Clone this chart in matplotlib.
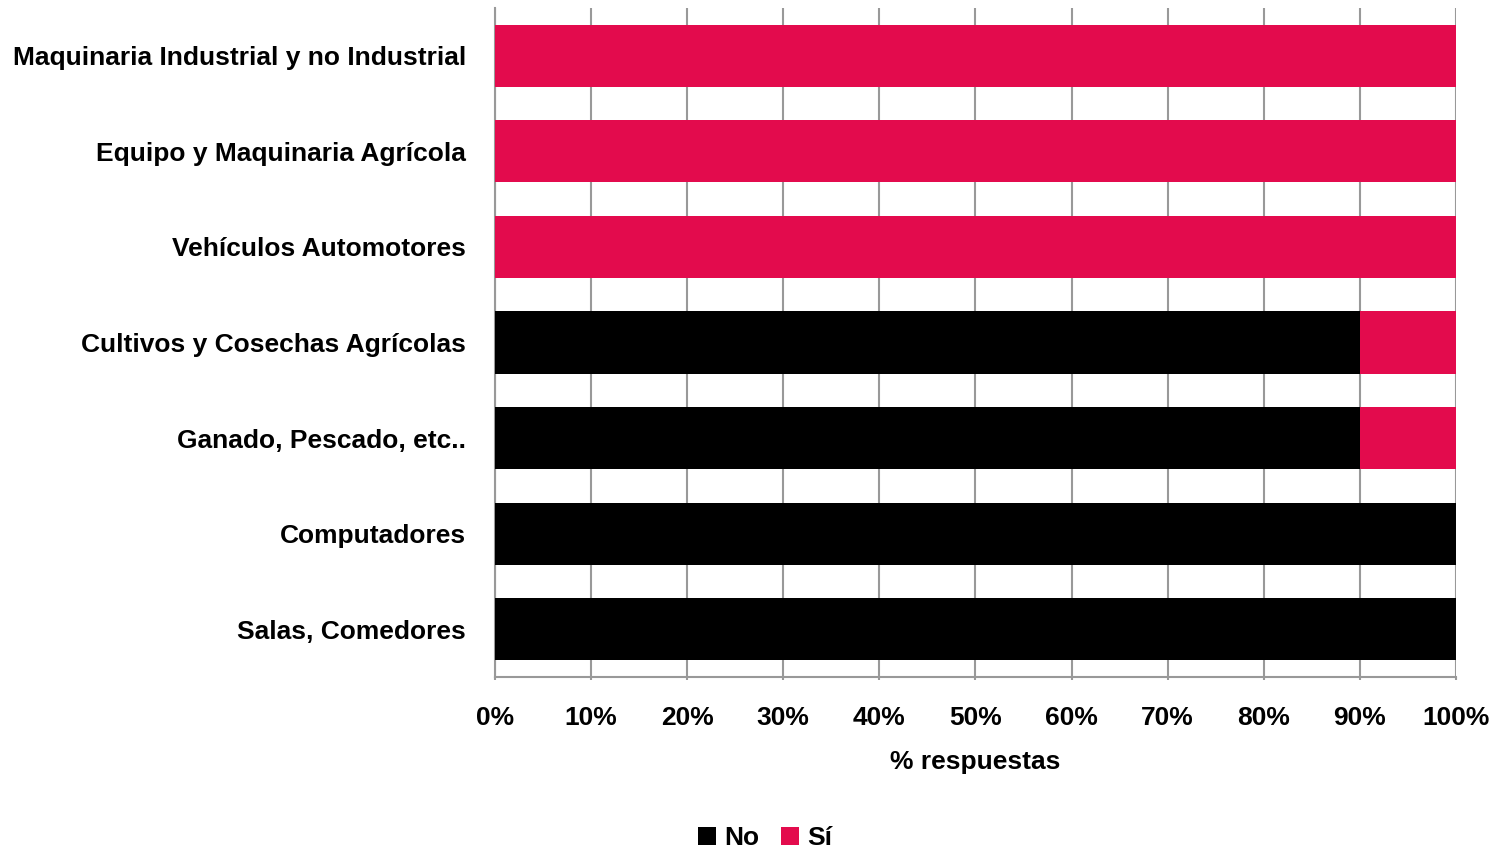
import matplotlib
matplotlib.use("Agg")
import matplotlib.pyplot as plt
from matplotlib.ticker import FuncFormatter

plt.rcParams['font.family'] = ['Liberation Sans', 'DejaVu Sans']
plt.rcParams['font.weight'] = 'bold'

categories = ["Maquinaria Industrial y no Industrial", "Equipo y Maquinaria Agrícola",
              "Vehículos Automotores", "Cultivos y Cosechas Agrícolas",
              "Ganado, Pescado, etc..", "Computadores", "Salas, Comedores"]
no_vals = [0, 0, 0, 90, 90, 100, 100]
si_vals = [100, 100, 100, 10, 10, 0, 0]
xticks = list(range(0, 101, 10))

FS = 19

fig = plt.figure(figsize=(14.99, 8.5), dpi=100)
ax = fig.add_axes([0.3302, 0.2035, 0.9713 - 0.3302, 0.9906 - 0.2035])

y = list(range(len(categories)))
ax.barh(y, no_vals, height=0.65, color='#000000', label='No', zorder=3)
ax.barh(y, si_vals, left=no_vals, height=0.65, color='#E30B4D', label='Sí', zorder=3)

ax.set_ylim(len(categories) - 0.5, -0.5)
ax.set_xlim(0, 100)
ax.set_yticks(y)
ax.set_yticklabels(categories, fontsize=FS, fontweight='bold')
ax.set_xticks(xticks)
ax.xaxis.set_major_formatter(FuncFormatter(lambda v, p: f"{int(v)}%"))
for lab in ax.get_xticklabels():
    lab.set_fontsize(FS)
    lab.set_fontweight('bold')
ax.tick_params(axis='y', length=0, pad=21)
ax.tick_params(axis='x', length=2, color='#999999', pad=19, width=1.5)
ax.xaxis.grid(True, color='#999999', linewidth=1.5, zorder=0)
ax.set_axisbelow(True)
for s in ['top', 'right']:
    ax.spines[s].set_visible(False)
for s in ['left', 'bottom']:
    ax.spines[s].set_color('#999999')
    ax.spines[s].set_linewidth(1.5)
ax.set_xlabel('% respuestas', fontsize=FS, fontweight='bold', labelpad=14)

fig.legend(loc='center', bbox_to_anchor=(765 / 1499, 1 - 838 / 850), ncol=2,
           frameon=False, fontsize=FS, handlelength=0.7, handleheight=0.7,
           handletextpad=0.3, columnspacing=0.8)

fig.savefig('out.png', dpi=100)
